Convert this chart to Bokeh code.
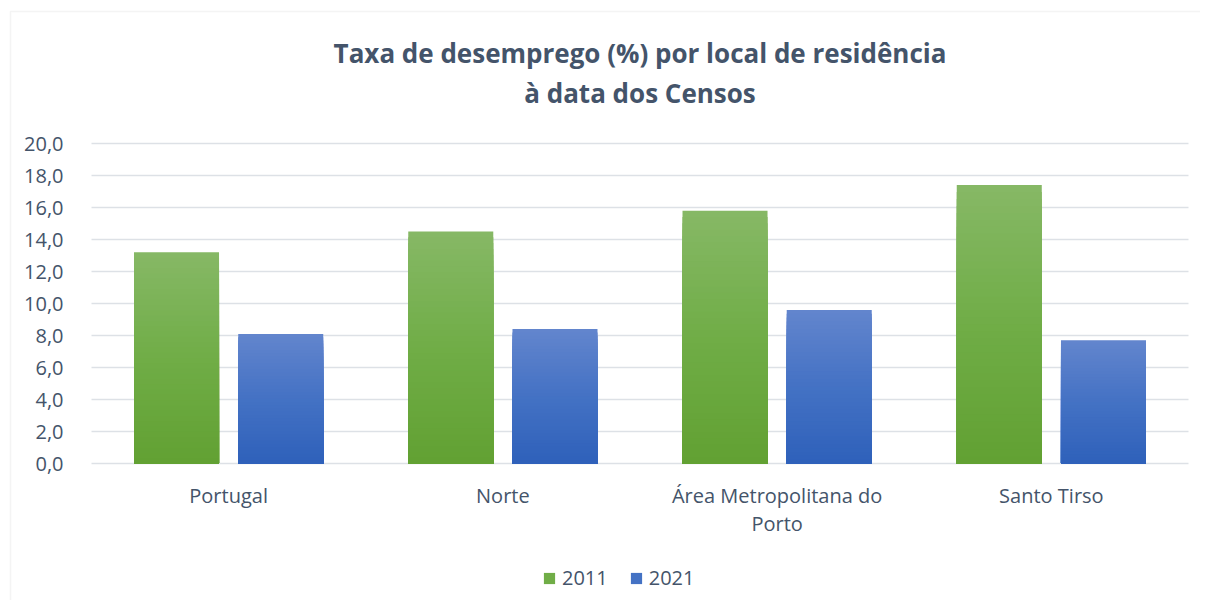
import numpy as np
from bokeh.plotting import figure
from bokeh.models import ColumnDataSource, Legend, LegendItem, FixedTicker, Label, BoxAnnotation
from bokeh.embed import file_html
from bokeh.resources import INLINE

categories = ["Portugal", "Norte", "Área Metropolitana do\nPorto", "Santo Tirso"]
series_names = ["2011", "2021"]
values_2011 = [13.2, 14.5, 15.8, 17.4]
values_2021 = [8.1, 8.4, 9.6, 7.7]
y_ticks = [0, 2, 4, 6, 8, 10, 12, 14, 16, 18, 20]
y_tick_labels = ["0,0", "2,0", "4,0", "6,0", "8,0", "10,0", "12,0", "14,0", "16,0", "18,0", "20,0"]
title_lines = ["Taxa de desemprego (%) por local de residência", "à data dos Censos"]

FONT = "Open Sans"
TXT = "#44546a"
GRID = "#dde1e6"

grad = {
    "2011": [(134, 184, 101), (112, 173, 71), (98, 161, 51)],
    "2021": [(98, 133, 205), (68, 114, 196), (47, 97, 186)],
}
solid = {"2011": "#70ad47", "2021": "#4472c4"}

def interp(stops, t):
    if t <= 0.5:
        a, b, u = stops[0], stops[1], t / 0.5
    else:
        a, b, u = stops[1], stops[2], (t - 0.5) / 0.5
    c = [int(round(a[i] + (b[i] - a[i]) * u)) for i in range(3)]
    return "#%02x%02x%02x" % tuple(c)

# layout (pixels): plot area 91..1188 horizontally, zero line at 463, 16 px per unit
FH = 600
PX = 16.0
Y0 = 463
LEFT, RIGHT, W = 91, 12, 1200
XPX = (W - LEFT - RIGHT) / 4.0

probe = figure(output_backend="svg")
full = "cross_bounds" in probe.ygrid[0].properties()

if full:
    p = figure(frame_width=W, frame_height=FH, output_backend="svg", toolbar_location=None,
               x_range=(-LEFT / XPX, 4 + RIGHT / XPX), y_range=(-(FH - Y0) / PX, Y0 / PX),
               min_border_left=0, min_border_right=0, min_border_top=0, min_border_bottom=0)
    p.yaxis.fixed_location = 0
    p.ygrid.cross_bounds = (0, 4)
else:
    p = figure(frame_width=W - LEFT - RIGHT, frame_height=FH, output_backend="svg",
               toolbar_location=None,
               x_range=(0, 4), y_range=(-(FH - Y0) / PX, Y0 / PX),
               min_border_left=LEFT, min_border_right=RIGHT, min_border_top=0, min_border_bottom=0)
p.outline_line_color = None
p.background_fill_color = "white"
p.border_fill_color = "white"

N = 40
bar_w = 0.31
offsets = {"2011": -0.19, "2021": 0.19}
xc = np.arange(len(categories)) + 0.5
legend_items = []
for name, vals in zip(series_names, [values_2011, values_2021]):
    xs, tops, cols = [], [], []
    for k in range(N):
        frac = 1 - k / N
        t = k / (N - 1)
        for i, v in enumerate(vals):
            xs.append(xc[i] + offsets[name])
            tops.append(v * frac)
            cols.append(interp(grad[name], t))
    src = ColumnDataSource(dict(x=xs, top=tops, color=cols))
    p.vbar(x="x", top="top", bottom=0, width=bar_w, source=src,
           fill_color="color", line_color=None)
    dummy = p.quad(left=[-10], right=[-9], bottom=[-100], top=[-99],
                   fill_color=solid[name], line_color=None)
    legend_items.append(LegendItem(label=name, renderers=[dummy]))

p.xaxis.fixed_location = 0
p.xaxis.ticker = FixedTicker(ticks=list(xc))
p.xaxis.major_label_overrides = {float(x): c for x, c in zip(xc, categories)}
p.xaxis.axis_line_color = None
p.xaxis.major_tick_line_color = None
p.xaxis.minor_tick_line_color = None
p.xaxis.major_label_text_font = FONT
p.xaxis.major_label_text_font_size = "20px"
p.xaxis.major_label_text_color = TXT
p.xaxis.major_label_text_line_height = 1.05
p.xaxis.major_label_standoff = 12

p.yaxis.ticker = FixedTicker(ticks=y_ticks)
p.yaxis.major_label_overrides = {t: l for t, l in zip(y_ticks, y_tick_labels)}
p.yaxis.axis_line_color = None
p.yaxis.major_tick_line_color = None
p.yaxis.minor_tick_line_color = None
p.yaxis.major_label_text_font = FONT
p.yaxis.major_label_text_font_size = "20px"
p.yaxis.major_label_text_color = TXT
p.yaxis.major_label_standoff = 22

p.xgrid.grid_line_color = None
p.ygrid.grid_line_color = GRID
p.ygrid.grid_line_width = 1.5

# chart-area border (top and left edges visible, as in the reference)
if full:
    p.add_layout(BoxAnnotation(left=-(LEFT - 10) / XPX, right=10, top=(Y0 - 11) / PX, bottom=-100,
                               fill_alpha=0, line_color="#d9d9d9", line_width=1.5,
                               level="underlay"))

# title, two centred lines
for txt, sy in zip(title_lines, [52, 92]):
    p.add_layout(Label(x=2, y=(Y0 - sy) / PX, text=txt, text_align="center",
                       text_baseline="middle", text_font=FONT, text_font_style="bold",
                       text_font_size="26px", text_color=TXT))

legend = Legend(items=legend_items, orientation="horizontal",
                location=((451 + LEFT) if full else 451, 9),
                label_text_font=FONT, label_text_font_size="20px", label_text_color=TXT,
                border_line_color=None, background_fill_alpha=0,
                glyph_width=14, glyph_height=14, spacing=21, label_standoff=6,
                margin=0, padding=4)
p.add_layout(legend, "center")

open("out.html", "w").write(file_html(p, INLINE))
